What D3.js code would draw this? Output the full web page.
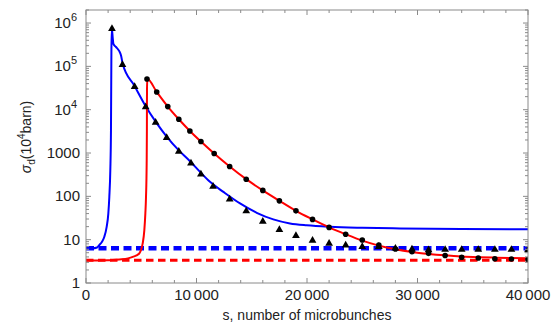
<!DOCTYPE html>
<html><head><meta charset="utf-8">
<script src="https://cdn.jsdelivr.net/npm/d3@7"></script>
<style>body{margin:0;background:#fff}text{font-family:"Liberation Sans",Arial,sans-serif}</style>
</head><body><svg id="c" width="559" height="336"></svg>
<script>
// Data
const blueS = [0,600,1000,1200,1450,1660,1870,2020,2110,2200,2260,2300,2340,2420,2480,2715,3010,3170,3320,4400,5400,6300,7300,8400,9410,10320,11220,12430,13940,15450,16950,18460,19970,22080,25000,28420,34000,40000];
const blueV = [6.3,6.3,6.6,7.5,9,11.7,19.8,40,97,400,3350,2.5e5,7.4e5,4.5e5,3.3e5,2.8e5,2.25e5,1.79e5,1.15e5,3.5e4,1.2e4,5300,2400,1150,647,367,216,127,68.6,41.7,29.4,23.7,21.4,19.8,18.8,18.2,17.6,17.3];
const redS = [0,2000,3010,3800,4230,4820,5000,5130,5280,5370,5430,5490,5510,5520,5550,6400,7400,8400,9400,10400,11600,13000,14500,16000,17500,19000,20500,22000,23500,25000,26500,28000,29500,31000,32500,34000,35500,37000,38500,40000];
const redV = [3.3,3.35,3.5,3.7,4.0,4.8,6,8.2,16.6,40,97,570,3350,3e4,5.1e4,2.56e4,1.18e4,6010,3230,1840,973,489,249,137,78.8,46.3,29.4,19.2,13.3,9.5,7.3,6.0,5.2,4.7,4.35,4.1,3.95,3.85,3.77,3.7];
const triS = [2350,3300,4400,5400,6300,7300,8400,9500,10400,11500,13000,14500,16000,17500,19000,20500,22000,23500,25000,26500,28000,29500,31000,32500,34000,35500,37000,38500,40000];
const triV = [7.4e5,1.09e5,3.4e4,1.15e4,5040,2250,1080,580,325,169,86,45.6,26.4,16.9,12.3,9.6,8.2,7.4,6.9,6.9,6.3,6.0,5.8,5.9,5.9,5.9,5.9,5.9,5.8];
const circS = [5520,6400,7400,8400,9400,10400,11600,13000,14500,16000,17500,19000,20500,22000,23500,25000,26500,28000,29500,31000,32500,34000,35500,37000,38500,40000];
const circV = [5.1e4,2.56e4,1.18e4,6010,3230,1840,973,489,249,137,78.8,46.3,29.4,19.2,13.3,9.8,7.5,6.07,5.26,4.83,4.30,3.93,3.77,3.63,3.57,3.5];
const blueDashed = 6.3, redDashed = 3.35;
const xTicks = [0,10000,20000,30000,40000];
const xTickLabels = [["0",""],["10","000"],["20","000"],["30","000"],["40","000"]];
const yTicks = [1,10,100,1000,1e4,1e5,1e6];
const yTickLabels = [["1",""],["10",""],["100",""],["1000",""],["10","4"],["10","5"],["10","6"]];

const W=559,H=336,m={l:86,r:31,t:10,b:53};
const svg=d3.select("#c");
const x=d3.scaleLinear().domain([0,40000]).range([m.l,W-m.r]);
const y=d3.scaleLog().domain([1,2e6]).range([H-m.b,m.t]);
const axisCol="#8a8a8a";

svg.append("clipPath").attr("id","clip").append("rect")
  .attr("x",m.l).attr("y",m.t).attr("width",W-m.l-m.r).attr("height",H-m.t-m.b);
const g=svg.append("g").attr("clip-path","url(#clip)");

// dashed lines
g.append("line").attr("x1",x(0)).attr("x2",x(40000)).attr("y1",y(blueDashed)).attr("y2",y(blueDashed))
  .attr("stroke","#0000ff").attr("stroke-width",4.5).attr("stroke-dasharray","8,4.5");
g.append("line").attr("x1",x(0)).attr("x2",x(40000)).attr("y1",y(redDashed)).attr("y2",y(redDashed))
  .attr("stroke","#ff0000").attr("stroke-width",3).attr("stroke-dasharray","7.5,4.5");

const line=d3.line().x(d=>x(d[0])).y(d=>y(d[1])).curve(d3.curveMonotoneX);
g.append("path").datum(blueS.map((s,i)=>[s,blueV[i]])).attr("d",line)
  .attr("fill","none").attr("stroke","#0000ff").attr("stroke-width",2).attr("stroke-linejoin","round");
g.append("path").datum(redS.map((s,i)=>[s,redV[i]])).attr("d",line)
  .attr("fill","none").attr("stroke","#ff0000").attr("stroke-width",2).attr("stroke-linejoin","round");

const tri=d3.symbol().type(d3.symbolTriangle).size(26);
g.selectAll(".tri").data(triS.map((s,i)=>[s,triV[i]])).join("path")
  .attr("transform",d=>`translate(${x(d[0])},${y(d[1])})`).attr("d",tri).attr("fill","#000");
g.selectAll(".circ").data(circS.map((s,i)=>[s,circV[i]])).join("circle")
  .attr("cx",d=>x(d[0])).attr("cy",d=>y(d[1])).attr("r",2.8).attr("fill","#000");

// frame
svg.append("rect").attr("x",m.l).attr("y",m.t).attr("width",W-m.l-m.r).attr("height",H-m.t-m.b)
  .attr("fill","none").attr("stroke",axisCol).attr("stroke-width",1);

// x ticks
const xt=svg.append("g").attr("stroke",axisCol).attr("stroke-width",1);
for(let s=0;s<=40000;s+=2000){
  const major=s%10000===0, L=major?5:3;
  xt.append("line").attr("x1",x(s)).attr("x2",x(s)).attr("y1",H-m.b).attr("y2",H-m.b-L);
  xt.append("line").attr("x1",x(s)).attr("x2",x(s)).attr("y1",m.t).attr("y2",m.t+L);
}
xTicks.forEach((t,i)=>{
  const [a,b]=xTickLabels[i];
  const tx=svg.append("text").attr("x",x(t)).attr("y",H-m.b+17).attr("text-anchor","middle")
    .attr("font-size",15).attr("fill","#222");
  tx.append("tspan").text(a);
  if(b) tx.append("tspan").attr("dx",3).text(b);
});
// y ticks
const yt=svg.append("g").attr("stroke",axisCol).attr("stroke-width",1);
for(let e=0;e<=6;e++){
  for(let k=1;k<=9;k++){
    const v=k*Math.pow(10,e); if(v>2e6) break;
    const L=k===1?5:3;
    yt.append("line").attr("x1",m.l).attr("x2",m.l+L).attr("y1",y(v)).attr("y2",y(v));
    yt.append("line").attr("x1",W-m.r).attr("x2",W-m.r-L).attr("y1",y(v)).attr("y2",y(v));
  }
}
yTicks.forEach((t,i)=>{
  const [b,sup]=yTickLabels[i];
  const tx=svg.append("text").attr("x",sup?77:80).attr("y",y(t)+5).attr("text-anchor","end")
    .attr("font-size",15).attr("fill","#222");
  tx.append("tspan").text(b);
  if(sup) tx.append("tspan").attr("dy",-7).attr("font-size",11).text(sup);
});

// axis titles
svg.append("text").attr("x",(m.l+W-m.r)/2).attr("y",H-16).attr("text-anchor","middle")
  .attr("font-size",14).attr("fill","#222").text("s, number of microbunches");
const yl=svg.append("text").attr("transform","translate(31,137) rotate(-90)").attr("text-anchor","middle")
  .attr("font-size",14).attr("fill","#222");
yl.append("tspan").attr("font-style","italic").text("σ");
yl.append("tspan").attr("dy",4).attr("font-size",10).text("d");
yl.append("tspan").attr("dy",-4).text("(10");
yl.append("tspan").attr("dy",-6).attr("font-size",10).text("4");
yl.append("tspan").attr("dy",6).text("barn)");
</script></body></html>
